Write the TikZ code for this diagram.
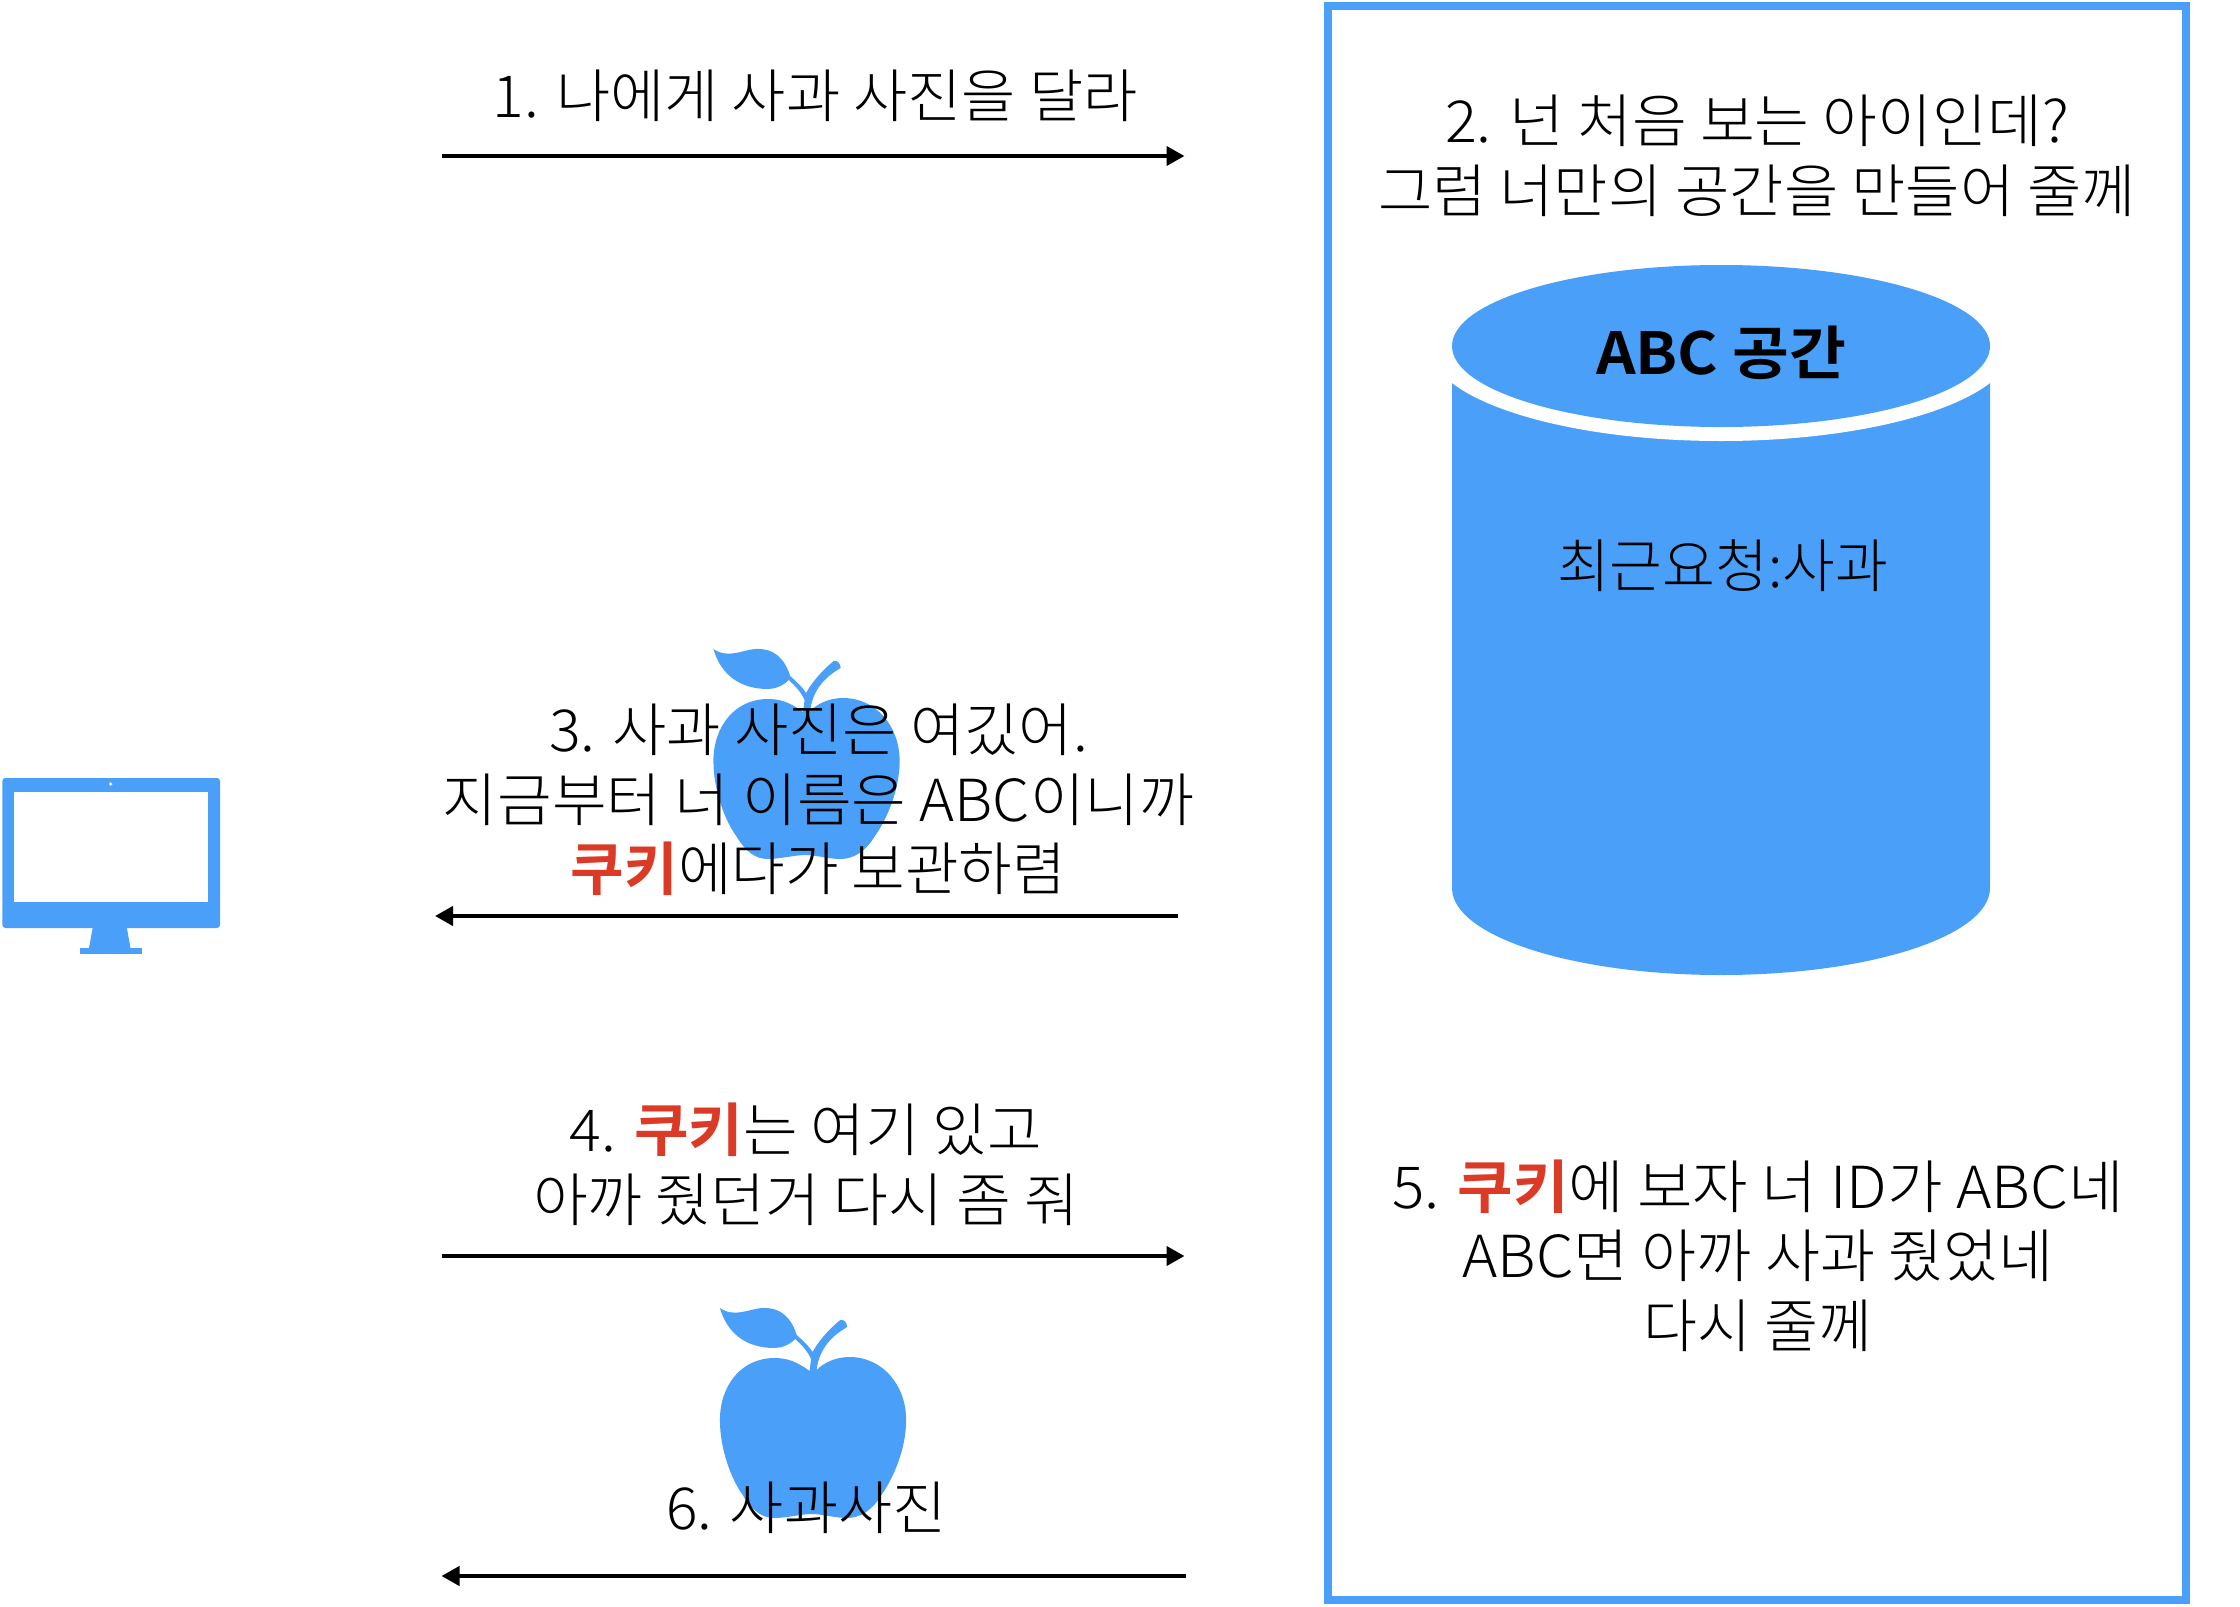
\documentclass[tikz,border=0pt]{standalone}
\usepackage{fontspec}
\usepackage{graphicx}
\usetikzlibrary{arrows.meta}
\setmainfont{Noto Sans CJK KR Light}[BoldFont={Noto Sans CJK KR Bold}]
\definecolor{skyfill}{HTML}{4A9FF9}
\definecolor{cookiered}{HTML}{DB3A26}
\newcommand{\fitw}[2]{\resizebox{#1pt}{\height}{#2}}
\newcommand{\ck}{\textcolor{cookiered}{\textbf{쿠키}}}
\newcommand{\applefill}{%
  \fill[skyfill] (813.5,1371) .. controls (800,1361) and (790,1358) .. (778,1358)
   .. controls (745,1358) and (723,1385) .. (723,1420)
   .. controls (723,1450) and (735,1480) .. (746,1495)
   .. controls (755,1510) and (765,1518) .. (778,1518)
   .. controls (790,1518) and (805,1514) .. (816,1514)
   .. controls (826,1514) and (840,1518) .. (851,1518)
   .. controls (865,1518) and (877,1510) .. (886,1495)
   .. controls (897,1480) and (911,1450) .. (911,1420)
   .. controls (911,1385) and (887,1357) .. (854,1357)
   .. controls (842,1357) and (830,1361) .. (820.5,1370)
   .. controls (823,1352) and (832,1338) .. (851.5,1327)
   .. controls (851,1322) and (848,1319) .. (844.5,1320)
   .. controls (832,1330) and (822,1342) .. (816.5,1352)
   .. controls (812,1345) and (806,1340) .. (800.5,1335)
   .. controls (795,1318) and (785,1307) .. (765,1308)
   .. controls (752,1309) and (738,1318) .. (723,1308)
   .. controls (730,1332) and (748,1348) .. (778,1348)
   .. controls (785,1348) and (793,1345) .. (799,1339)
   .. controls (806,1345) and (812,1352) .. (815,1359)
   -- cycle;}
\tikzset{
  label text/.style={inner sep=0pt,outer sep=0pt,align=center,text=black,
    font=\fontsize{58pt}{69.5pt}\selectfont},
  flow/.style={line width=4pt,-{Triangle[length=18pt,width=19pt]}},
  frame box/.style={draw=skyfill,line width=8pt,fill=none},
}
\begin{document}
\begin{tikzpicture}[x=1pt,y=-1pt]
\useasboundingbox (0,0) rectangle (2240,1606);
% frame
\draw[frame box] (1328,6) rectangle (2186,1600);
% cylinder
\fill[skyfill] (1452,346) -- (1452,888)
  .. controls (1452,936) and (1572.4,975) .. (1721,975)
  .. controls (1869.6,975) and (1990,936) .. (1990,888) -- (1990,346) -- cycle;
\fill[white] (1721,346) ellipse [x radius=292,y radius=95];
\fill[skyfill] (1721,346) ellipse [x radius=269,y radius=81];
% monitor
\fill[skyfill,rounded corners=3pt] (2.4,778) rectangle (220,928);
\fill[white] (14,792) rectangle (208,902);
\fill[white] (110.7,784) circle (1.8);
\fill[skyfill] (93,926) -- (126.5,926) -- (130.5,948) -- (89,948) -- cycle;
\fill[skyfill] (80,948) rectangle (142,954);
% apples
\begin{scope}[xshift=3.8pt,xscale=.9905]\applefill\end{scope}
\begin{scope}[xshift=-2.7pt,yshift=659pt,xscale=.9905]\applefill\end{scope}
% coordinates
\coordinate (a1s) at (441.5,156); \coordinate (a1e) at (1184.5,156);
\coordinate (a3s) at (1178,916); \coordinate (a3e) at (435,916);
\coordinate (a4s) at (441.5,1256); \coordinate (a4e) at (1184.5,1256);
\coordinate (a6s) at (1186,1576); \coordinate (a6e) at (441.5,1576);
\draw[flow] (a1s) -- (a1e);
\draw[flow] (a3s) -- (a3e);
\draw[flow] (a4s) -- (a4e);
\draw[flow] (a6s) -- (a6e);
% labels
\node[label text] (t1) at (815,96) {\fitw{645}{1. 나에게 사과 사진을 달라}};
\node[label text] (t2) at (1757,156) {\fitw{624}{2. 넌 처음 보는 아이인데?}\\\fitw{758}{그럼 너만의 공간을 만들어 줄께}};
\node[label text] (t3) at (818.5,800) {\fitw{539}{3. 사과 사진은 여깄어.}\\\fitw{751}{지금부터 너 이름은 ABC이니까}\\\fitw{495}{\ck 에다가 보관하렴}};
\node[label text] (t4) at (806,1164.5) {\fitw{472}{4. \ck 는 여기 있고}\\\fitw{546}{아까 줬던거 다시 좀 줘}};
\node[label text] (t5) at (1758,1255.5) {\fitw{731}{5. \ck 에 보자 너 ID가 ABC네}\\\fitw{591}{ABC면 아까 사과 줬었네}\\\fitw{229}{다시 줄께}};
\node[label text] (t6) at (806.5,1507.5) {\fitw{280}{6. 사과사진}};
\node[label text] (cyl) at (1721,353) {\fitw{250}{\textbf{ABC 공간}}};
\node[label text] (rec) at (1722.5,566) {\fitw{331}{최근요청:사과}};
\end{tikzpicture}
\end{document}
